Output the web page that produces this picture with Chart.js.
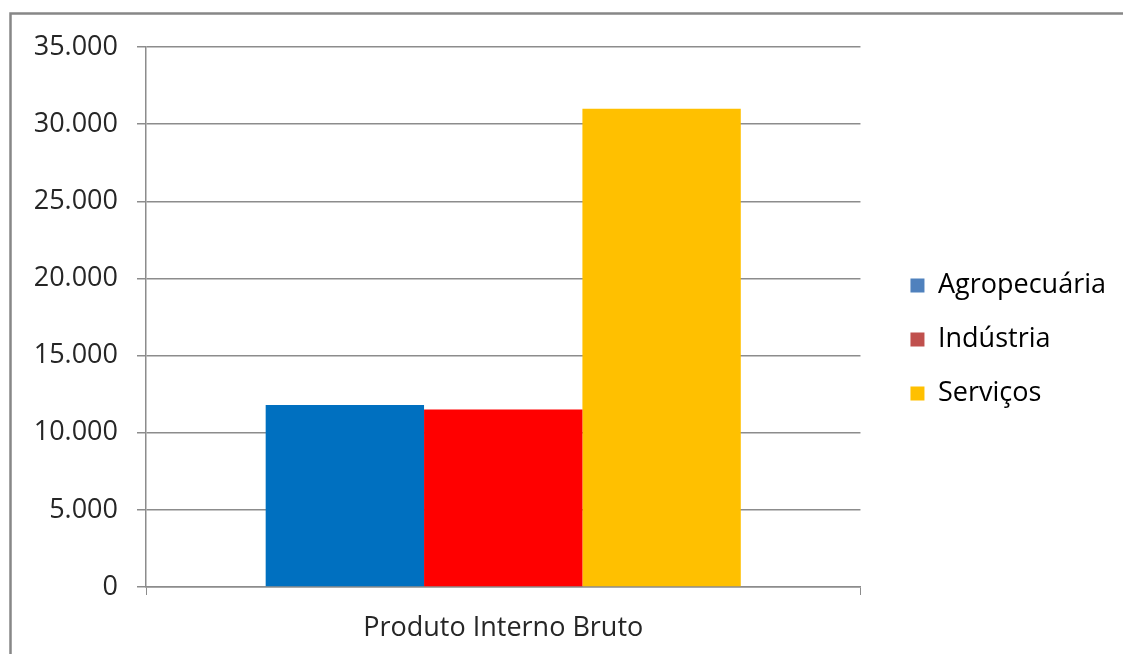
<!DOCTYPE html>
<html>
<head>
<meta charset="utf-8">
<script src="https://cdn.jsdelivr.net/npm/chart.js@4/dist/chart.umd.min.js"></script>
<style>
  html, body { margin: 0; padding: 0; background: #fff; }
  #wrap { width: 1123px; height: 654px; position: relative; }
</style>
</head>
<body>
<div id="wrap"><canvas id="pib" width="1123" height="654"></canvas></div>
<script>
const categories = ["Produto Interno Bruto"];
const seriesNames = ["Agropecuária", "Indústria", "Serviços"];
const seriesValues = [[11800], [11500], [31000]];
const barColors = ["#0070C0", "#FF0000", "#FFC000"];
const legendColors = ["#4F81BD", "#C0504D", "#FFC000"];

const FONT = "'Open Sans', sans-serif";
const TEXT = "#262626";
const LINE = "#8c8c8c";

// thousands separator with a dot, e.g. 35000 -> 35.000
function fmt(v) {
  return String(v).replace(/\B(?=(\d{3})+(?!\d))/g, ".");
}

// grey frame around the chart, running off the right and bottom edges
const frame = {
  id: "frame",
  beforeDraw(chart) {
    const ctx = chart.ctx;
    ctx.save();
    ctx.strokeStyle = "#878787";
    ctx.lineWidth = 2.5;
    ctx.strokeRect(10.5, 13.5, 1300, 1000);
    ctx.restore();
  }
};

// nudge the legend block a little right and up from where the layout puts it
const legendNudge = {
  id: "legendNudge",
  afterLayout(chart) {
    const lg = chart.legend;
    lg.left += 23; lg.right += 23;
    lg.top -= 11; lg.bottom -= 11;
  }
};

const datasets = seriesNames.map((name, i) => ({
  label: name,
  data: seriesValues[i],
  backgroundColor: barColors[i],
  borderWidth: 0
}));

new Chart(document.getElementById("pib"), {
  type: "bar",
  data: { labels: categories, datasets: datasets },
  plugins: [frame, legendNudge],
  options: {
    responsive: false,
    animation: false,
    devicePixelRatio: 1,
    layout: { padding: { left: 33, top: 47, right: 30, bottom: 0 } },
    datasets: {
      bar: { categoryPercentage: 0.665, barPercentage: 1 }
    },
    plugins: {
      tooltip: { enabled: false },
      legend: {
        position: "right",
        align: "center",
        labels: {
          font: { family: FONT, size: 27 },
          color: TEXT,
          boxWidth: 14,
          boxHeight: 14,
          padding: 27,
          generateLabels(chart) {
            return chart.data.datasets.map((ds, i) => ({
              text: ds.label,
              fillStyle: legendColors[i],
              strokeStyle: legendColors[i],
              lineWidth: 0,
              datasetIndex: i
            }));
          }
        }
      }
    },
    scales: {
      x: {
        afterFit: (s) => { s.height = 67; },
        grid: {
          display: true,
          drawOnChartArea: false,
          drawTicks: true,
          tickLength: 8,
          color: LINE,
          offset: true
        },
        border: { color: LINE, width: 1.5 },
        ticks: {
          font: { family: FONT, size: 27 },
          color: TEXT,
          padding: 17
        }
      },
      y: {
        min: 0,
        max: 35000,
        afterFit: (s) => { s.width = 113; },
        grid: {
          color: LINE,
          lineWidth: 1.5,
          tickLength: 9
        },
        border: { color: LINE, width: 1.5 },
        ticks: {
          stepSize: 5000,
          font: { family: FONT, size: 27 },
          color: TEXT,
          padding: 19,
          callback: (v) => fmt(v)
        }
      }
    }
  }
});
</script>
</body>
</html>
